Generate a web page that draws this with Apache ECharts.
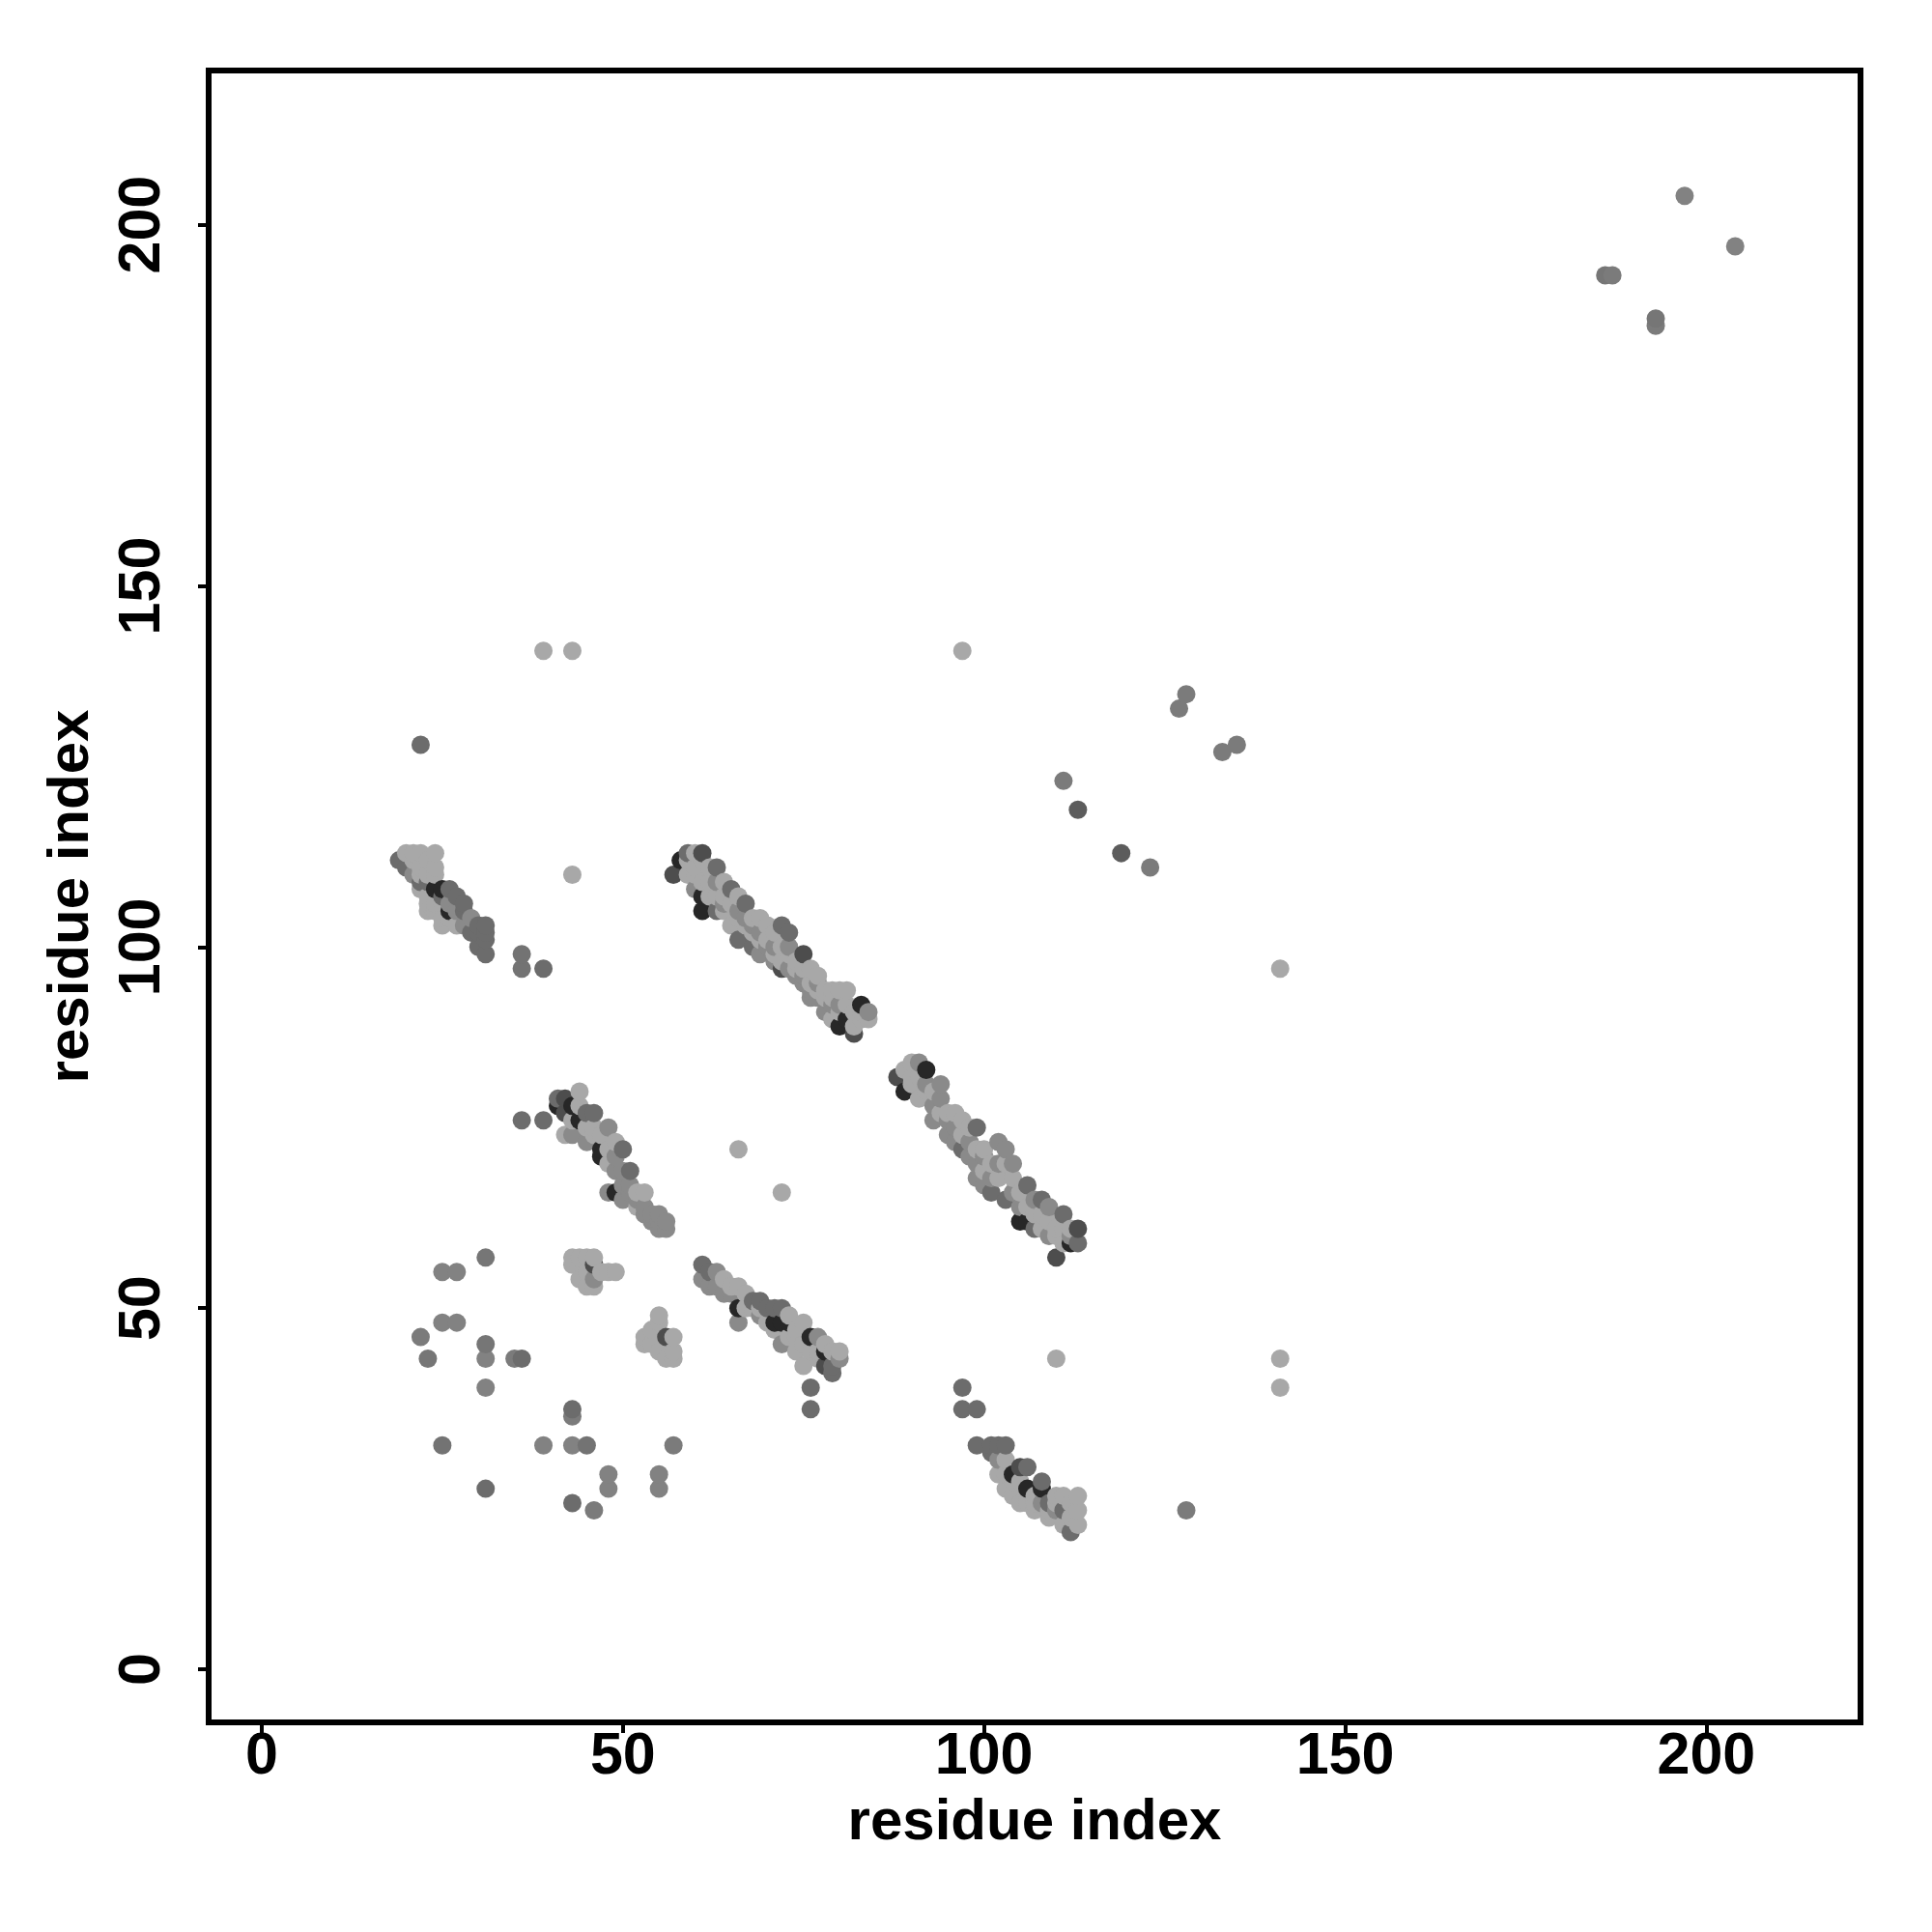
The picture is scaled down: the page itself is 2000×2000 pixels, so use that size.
<!DOCTYPE html>
<html>
<head>
<meta charset="utf-8">
<script src="https://cdn.jsdelivr.net/npm/echarts@6/dist/echarts.min.js"></script>
<style>
html,body{margin:0;padding:0;background:#fff;}
#chart{width:2000px;height:2000px;}
</style>
</head>
<body>
<div id="chart"></div>
<script>
// Each point: [residue i, residue j, darkness 0..1]
var bandA = [
  [19,112,0.45],
  [20,113,0.05],[20,111,0.45],
  [21,113,0.05],[21,112,0.05],[21,110,0.25],
  [22,113,0.05],[22,111,0.05],[22,110,0.05],[22,109,0.45],[22,108,0.05],
  [23,112,0.05],[23,110,0.05],[23,109,0.45],[23,107,0.05],[23,106,0.05],[23,105,0.05],
  [24,113,0.05],[24,111,0.05],[24,110,0.05],[24,108,0.9],[24,106,0.05],[24,105,0.05],
  [25,108,0.9],[25,107,0.45],[25,106,0.05],[25,104,0.05],[25,103,0.05],
  [26,108,0.45],[26,106,0.25],[26,105,0.9],[26,104,0.05],
  [27,107,0.45],[27,105,0.25],[27,103,0.05],
  [28,106,0.45],[28,105,0.45],[28,103,0.25],
  [29,104,0.25],[29,102,0.45],
  [30,103,0.45],[30,102,0.45],[30,100,0.45],
  [31,103,0.45],[31,102,0.45],[31,101,0.45],[31,99,0.45]
];
var bandB1 = [
  [57,110,0.65],
  [58,112,0.9],
  [59,113,0.45],[59,112,0.05],[59,110,0.05],
  [60,113,0.05],[60,111,0.05],[60,110,0.05],[60,108,0.25],
  [61,113,0.65],[61,112,0.05],[61,109,0.05],[61,107,0.9],[61,105,0.9],
  [62,111,0.05],[62,109,0.05],[62,107,0.05],
  [63,111,0.45],[63,109,0.25],[63,107,0.05],[63,105,0.45],
  [64,109,0.05],[64,107,0.05],[64,106,0.25],[64,105,0.05],
  [65,108,0.45],[65,106,0.05],[65,103,0.05],
  [66,107,0.05],[66,105,0.25],[66,104,0.05],[66,101,0.45],
  [67,106,0.45],[67,104,0.25],[67,103,0.05],
  [68,104,0.05],[68,103,0.25],[68,102,0.05],[68,100,0.45],
  [69,104,0.05],[69,102,0.25],[69,101,0.05],[69,99,0.25],
  [70,103,0.05],[70,101,0.05],[70,100,0.25],
  [71,102,0.05],[71,100,0.25],[71,99,0.05],[71,98,0.25],
  [72,103,0.45],[72,100,0.05],[72,98,0.05],[72,97,0.65],
  [73,102,0.45],[73,100,0.25],[73,99,0.05],[73,97,0.25],
  [74,98,0.05],[74,97,0.05],[74,96,0.25],
  [75,99,0.65],[75,97,0.05],[75,96,0.25],[75,95,0.25],
  [76,97,0.05],[76,95,0.05],[76,94,0.25],[76,93,0.25],
  [77,96,0.05],[77,95,0.25],[77,94,0.05],[77,93,0.25],
  [78,94,0.05],[78,93,0.05],[78,91,0.25],
  [79,94,0.05],[79,93,0.05],[79,92,0.25],[79,90,0.05],
  [80,94,0.05],[80,92,0.25],[80,91,0.05],[80,89,0.9],
  [81,94,0.05],[81,92,0.05],[81,90,0.9],
  [82,91,0.05],[82,89,0.05],[82,88,0.65],
  [83,92,0.9],[83,91,0.05],[83,90,0.05],
  [84,91,0.25],[84,90,0.05]
];
var bandB2 = [
  [88,82,0.65],
  [89,80,0.9],[89,83,0.05],
  [90,84,0.05],[90,82,0.05],[90,81,0.05],
  [91,84,0.25],[91,82,0.05],[91,79,0.05],
  [92,83,0.9],[92,81,0.25],[92,80,0.05],
  [93,80,0.05],[93,78,0.25],[93,76,0.25],
  [94,81,0.25],[94,79,0.25],[94,77,0.05],
  [95,77,0.05],[95,76,0.25],[95,74,0.25],
  [96,77,0.05],[96,75,0.25],[96,73,0.25],
  [97,76,0.05],[97,74,0.05],[97,72,0.45],
  [98,75,0.05],[98,73,0.25],[98,71,0.25],
  [99,75,0.45],[99,72,0.05],[99,70,0.25],[99,68,0.25],
  [100,72,0.05],[100,71,0.25],[100,69,0.05],[100,67,0.25],
  [101,70,0.05],[101,68,0.25],[101,66,0.45],
  [102,73,0.25],[102,70,0.25],[102,68,0.05],
  [103,72,0.25],[103,70,0.05],[103,65,0.45],
  [104,70,0.25],[104,68,0.05],[104,66,0.25],
  [105,66,0.05],[105,64,0.25],[105,62,0.9],
  [106,67,0.45],[106,64,0.05],[106,62,0.9],
  [107,65,0.25],[107,63,0.05],[107,61,0.45],
  [108,65,0.45],[108,63,0.05],[108,61,0.05],
  [109,64,0.25],[109,62,0.05],[109,60,0.25],
  [110,61,0.05],[110,60,0.05],[110,57,0.65],
  [111,63,0.45],[111,61,0.05],[111,59,0.05],
  [112,61,0.05],[112,60,0.25],[112,59,0.9],
  [113,61,0.65],[113,59,0.45]
];
var bandC = [
  [36,76,0.45],[39,76,0.45],
  [41,79,0.45],[41,78,0.9],
  [42,79,0.65],[42,77,0.65],[42,74,0.05],
  [43,78,0.9],[43,76,0.05],[43,74,0.25],
  [44,80,0.05],[44,78,0.05],[44,76,0.9],
  [45,77,0.45],[45,75,0.05],[45,73,0.25],
  [46,77,0.45],[46,75,0.05],[46,74,0.05],
  [47,74,0.05],[47,72,0.9],[47,71,0.9],
  [48,75,0.25],[48,72,0.05],[48,70,0.05],[48,66,0.25],
  [49,73,0.05],[49,71,0.25],[49,69,0.25],[49,66,0.9],
  [50,72,0.45],[50,69,0.25],[50,67,0.25],[50,65,0.25],
  [51,69,0.45],[51,67,0.25],[51,66,0.25],
  [52,66,0.05],[52,65,0.25],[52,64,0.05],
  [53,66,0.05],[53,64,0.25],[53,63,0.25],
  [54,63,0.25],[54,62,0.25],
  [55,63,0.25],[55,62,0.25],[55,61,0.25],
  [56,62,0.25],[56,61,0.25]
];
var bandD = [
  [61,56,0.45],[61,54,0.25],
  [62,55,0.45],[62,53,0.25],
  [63,55,0.25],[63,53,0.25],
  [64,54,0.05],[64,52,0.25],
  [65,53,0.05],[65,52,0.25],
  [66,53,0.05],[66,50,0.9],[66,48,0.25],
  [67,52,0.05],[67,50,0.05],
  [68,51,0.45],[68,50,0.05],
  [69,51,0.45],[69,50,0.05],[69,49,0.25],
  [70,50,0.45],[70,48,0.05],
  [71,50,0.45],[71,48,0.9],[71,47,0.05],
  [72,50,0.45],[72,48,0.9],[72,45,0.25],
  [73,49,0.05],[73,48,0.9],[73,46,0.05],
  [74,47,0.05],[74,46,0.05],[74,44,0.05],
  [75,48,0.05],[75,45,0.05],[75,42,0.05],
  [76,46,0.9],[76,44,0.05],[76,39,0.45],[76,36,0.45],
  [77,46,0.25],[77,44,0.05],[77,43,0.05],
  [78,45,0.05],[78,44,0.9],[78,42,0.65],
  [79,44,0.05],[79,42,0.45],[79,41,0.45],
  [80,44,0.05],[80,43,0.25]
];
var bandE = [
  [97,39,0.45],[97,36,0.45],[99,36,0.45],
  [99,31,0.45],[101,31,0.45],[102,31,0.45],[103,31,0.45],[101,30,0.45],
  [102,29,0.25],[102,27,0.05],
  [103,29,0.05],[103,27,0.05],[103,25,0.05],
  [104,27,0.9],[104,26,0.05],[104,24,0.05],
  [105,28,0.65],[105,26,0.05],[105,23,0.05],
  [106,28,0.45],[106,25,0.9],[106,24,0.05],[106,23,0.05],
  [107,24,0.05],[107,23,0.05],[107,22,0.05],
  [108,26,0.45],[108,25,0.9],[108,23,0.25],
  [109,23,0.45],[109,22,0.05],[109,21,0.05],
  [110,24,0.05],[110,23,0.05],[110,22,0.25],
  [111,24,0.05],[111,22,0.45],[111,20,0.05],
  [112,23,0.05],[112,21,0.05],[112,19,0.45],
  [113,24,0.05],[113,22,0.05],[113,20,0.05]
];
var clusterF = [
  [43,57,0.05],[43,56,0.05],[44,57,0.05],[44,54,0.05],[45,57,0.05],[45,55,0.05],
  [45,53,0.05],[46,56,0.65],[46,57,0.05],[46,53,0.05],[46,54,0.25],[47,55,0.05],
  [48,55,0.05],[49,55,0.05]
];
var clusterG = [
  [53,46,0.05],[53,45,0.05],[54,47,0.05],[54,45,0.05],[55,49,0.05],[55,48,0.05],
  [55,44,0.05],[56,46,0.65],[56,43,0.05],[57,46,0.05],[57,44,0.05],[57,43,0.05]
];
var isolated = [
  [22,128,0.45],[39,141,0.05],[43,141,0.05],[97,141,0.05],
  [127,133,0.35],[128,135,0.35],[133,127,0.35],[135,128,0.35],
  [111,123,0.35],[113,119,0.55],[119,113,0.55],[123,111,0.35],
  [43,110,0.05],[141,97,0.05],
  [36,99,0.4],[36,97,0.4],[39,97,0.45],
  [66,72,0.05],[72,66,0.05],
  [110,43,0.05],[141,43,0.05],[141,39,0.05],[128,22,0.35],
  [186,193,0.38],[187,193,0.35],[193,187,0.38],[193,186,0.35],[197,204,0.3],[204,197,0.3]
];
var lowerLeft = [
  [31,57,0.38],[25,55,0.3],[27,55,0.3],[25,48,0.3],[27,48,0.3],[22,46,0.35],
  [23,43,0.38],[31,45,0.38],[31,43,0.3],[35,43,0.35],[36,43,0.45],[31,39,0.3],
  [43,36,0.45],[43,35,0.35],[25,31,0.4],[39,31,0.3],[43,31,0.3],[45,31,0.4],
  [57,31,0.35],[31,25,0.45],[48,27,0.3],[48,25,0.3],[55,27,0.3],[55,25,0.3],
  [43,23,0.45],[46,22,0.35]
];
var tickValues = [0, 50, 100, 150, 200];
var axisTitle = 'residue index';

var points = [].concat(bandA, bandB1, bandB2, bandC, bandD, bandE, clusterF, clusterG, isolated, lowerLeft);
points.sort(function (a, b) { return a[0] - b[0] || a[1] - b[1]; });

var FONT = '"Liberation Sans", Arial, Helvetica, sans-serif';
var chart = echarts.init(document.getElementById('chart'), null, {renderer: 'canvas'});
function axisCommon(isX) {
  return {
    type: 'value',
    min: -7.35,
    max: 221.35,
    name: axisTitle,
    nameLocation: 'middle',
    nameGap: isX ? 104 : 142,
    nameTextStyle: {fontFamily: FONT, fontWeight: 'bold', fontSize: 60, color: '#000', verticalAlign: 'middle'},
    axisLine: {show: false, onZero: false},
    splitLine: {show: false},
    axisTick: {show: true, inside: false, length: 11, customValues: tickValues, lineStyle: {color: '#000', width: 4}},
    axisLabel: {
      show: true, customValues: tickValues, fontFamily: FONT, fontWeight: 'bold', fontSize: 61,
      color: '#000', margin: isX ? 36 : 68, rotate: isX ? 0 : 90, verticalAlign: 'middle'
    }
  };
}
chart.setOption({
  animation: false,
  backgroundColor: '#fff',
  grid: {left: 216, top: 73, width: 1710, height: 1710, show: true, borderColor: '#000', borderWidth: 6, backgroundColor: 'transparent'},
  xAxis: axisCommon(true),
  yAxis: axisCommon(false),
  visualMap: {show: false, type: 'continuous', dimension: 2, min: 0, max: 1, seriesIndex: 0,
    inRange: {color: ['#b0b0b0', '#181818']}},
  series: [{
    type: 'scatter',
    symbol: 'circle',
    symbolSize: 19,
    data: points,
    itemStyle: {opacity: 1},
    emphasis: {disabled: true}
  }]
});
</script>
</body>
</html>
